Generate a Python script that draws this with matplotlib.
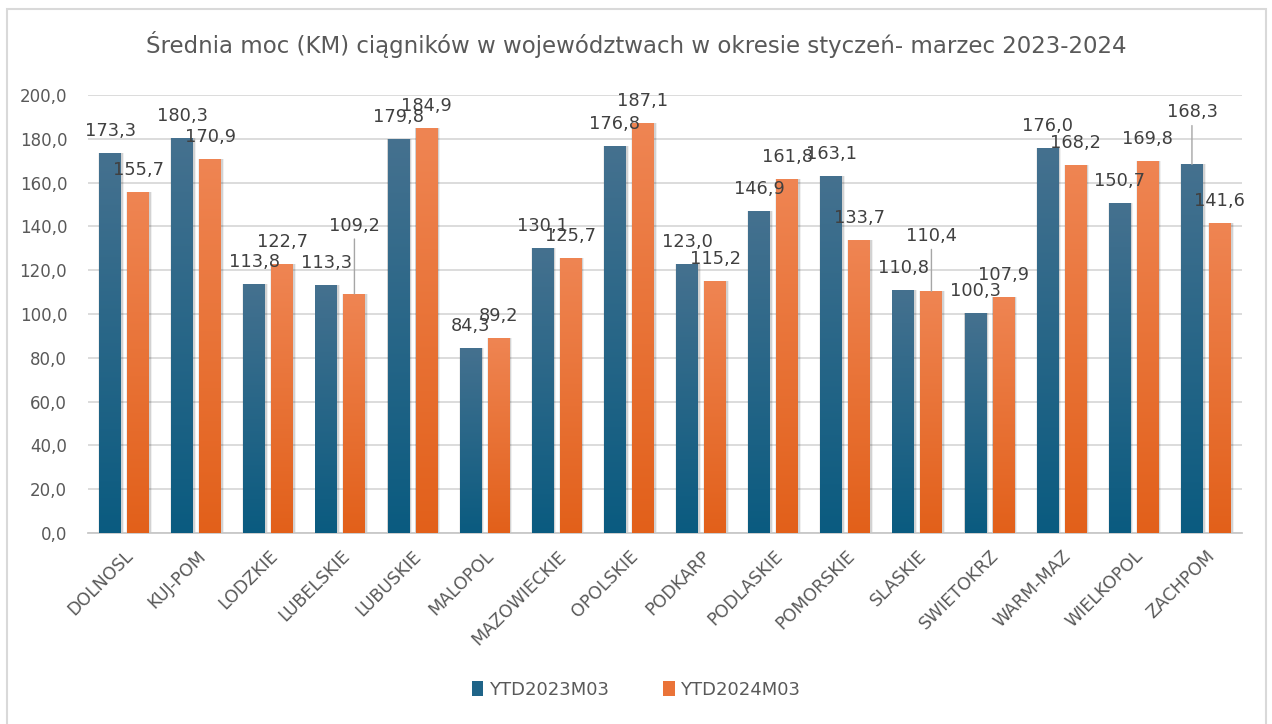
import numpy as np
import matplotlib.pyplot as plt
import matplotlib.transforms as mtransforms
from matplotlib.patches import Rectangle, Patch
from matplotlib.colors import LinearSegmentedColormap

# dane
categories = ["DOLNOSL", "KUJ-POM", "LODZKIE", "LUBELSKIE", "LUBUSKIE", "MALOPOL",
              "MAZOWIECKIE", "OPOLSKIE", "PODKARP", "PODLASKIE", "POMORSKIE", "SLASKIE",
              "SWIETOKRZ", "WARM-MAZ", "WIELKOPOL", "ZACHPOM"]
ytd2023 = [173.3, 180.3, 113.8, 113.3, 179.8, 84.3, 130.1, 176.8,
           123.0, 146.9, 163.1, 110.8, 100.3, 176.0, 150.7, 168.3]
ytd2024 = [155.7, 170.9, 122.7, 109.2, 184.9, 89.2, 125.7, 187.1,
           115.2, 161.8, 133.7, 110.4, 107.9, 168.2, 169.8, 141.6]
series_names = ["YTD2023M03", "YTD2024M03"]
yticks = np.arange(0, 201, 20)

title = "Średnia moc (KM) ciągników w województwach w okresie styczeń- marzec 2023-2024"

# etykiety przesunięte ręcznie (seria, indeks) -> przesunięcie w pikselach
moved_labels = {(1, 3): 68, (1, 11): 55, (0, 15): 52}
LABEL_DY = 22

BLUE = ("#0A5B80", "#45718F")
ORANGE = ("#E2601A", "#EF8553")
TXT = "#595959"

fig = plt.figure(figsize=(12.72, 7.24), dpi=100)
ax = fig.add_axes([88 / 1272, 1 - 533 / 724, (1242 - 88) / 1272, (533 - 95) / 724])

x = np.arange(len(categories))
width = 0.305
offset = 0.194
grad = np.linspace(0, 1, 256).reshape(-1, 1)


def gradient_bars(xs, vals, colors):
    cmap = LinearSegmentedColormap.from_list("g", list(colors))
    # cień
    ax.bar(xs + 0.012, vals, width + 0.05, color="black", alpha=0.06, zorder=2)
    ax.bar(xs + 0.01, vals, width + 0.025, color="black", alpha=0.12, zorder=2)
    bars = ax.bar(xs, vals, width, color="none", edgecolor="none", zorder=3)
    for b in bars:
        x0, w, h = b.get_x(), b.get_width(), b.get_height()
        im = ax.imshow(grad, extent=[x0, x0 + w, 0, h], origin="lower",
                       cmap=cmap, aspect="auto", zorder=3)
        im.set_clip_path(b)
    return bars


all_vals = [ytd2023, ytd2024]
for s, (vals, cols, sign) in enumerate(zip(all_vals, [BLUE, ORANGE], [-1, 1])):
    xs = x + sign * offset
    gradient_bars(xs, vals, cols)
    for i, v in enumerate(vals):
        lab = f"{v:.1f}".replace(".", ",")
        dy = moved_labels.get((s, i), LABEL_DY)
        if (s, i) in moved_labels:
            ax.annotate(lab, xy=(xs[i], v), xytext=(0, dy), textcoords="offset pixels",
                        ha="center", va="center", fontsize=12.8, color="#404040", zorder=5,
                        arrowprops=dict(arrowstyle="-", color="#A6A6A6", lw=1,
                                        shrinkA=1, shrinkB=0, relpos=(0.5, 0)))
        else:
            ax.annotate(lab, xy=(xs[i], v), xytext=(0, dy), textcoords="offset pixels",
                        ha="center", va="center", fontsize=12.8, color="#404040", zorder=5)

ax.set_xlim(-0.5, len(categories) - 0.5)
ax.set_ylim(0, 200)
ax.set_yticks(yticks)
ax.set_yticklabels([f"{v:.1f}".replace(".", ",") for v in yticks], fontsize=12, color=TXT)
ax.set_xticks(x)
ax.set_xticklabels(categories, rotation=45, ha="right", rotation_mode="anchor",
                   fontsize=12.5, color=TXT)
shift = mtransforms.ScaledTranslation(-5 / 100, 0, fig.dpi_scale_trans)
for lbl in ax.get_xticklabels():
    lbl.set_transform(lbl.get_transform() + shift)
ax.tick_params(axis="both", length=0)
ax.tick_params(axis="y", pad=15)
ax.tick_params(axis="x", pad=10)
ax.yaxis.grid(True, color="#D9D9D9", linewidth=1.3)
ax.set_axisbelow(True)
for sp in ["top", "right", "left"]:
    ax.spines[sp].set_visible(False)
ax.spines["bottom"].set_color("#C8C8C8")
ax.spines["bottom"].set_linewidth(1.3)

fig.text(0.5, 1 - 45 / 724, title, ha="center", va="center", fontsize=16.5, color=TXT)

handles = [Patch(facecolor="#1F6488", label=series_names[0]),
           Patch(facecolor="#EA7338", label=series_names[1])]
fig.legend(handles=handles, loc="center", bbox_to_anchor=(0.5, 1 - 690 / 724), ncol=2,
           frameon=False, fontsize=13, handlelength=0.65, handleheight=0.9,
           handletextpad=0.3, columnspacing=3.0, labelcolor=TXT)

fig.add_artist(Rectangle((7 / 1272, -0.01), (1266 - 7) / 1272, (724 - 9) / 724 + 0.01,
                         transform=fig.transFigure, fill=False, edgecolor="#D9D9D9", lw=1.5))

fig.savefig("out.png", dpi=100)
